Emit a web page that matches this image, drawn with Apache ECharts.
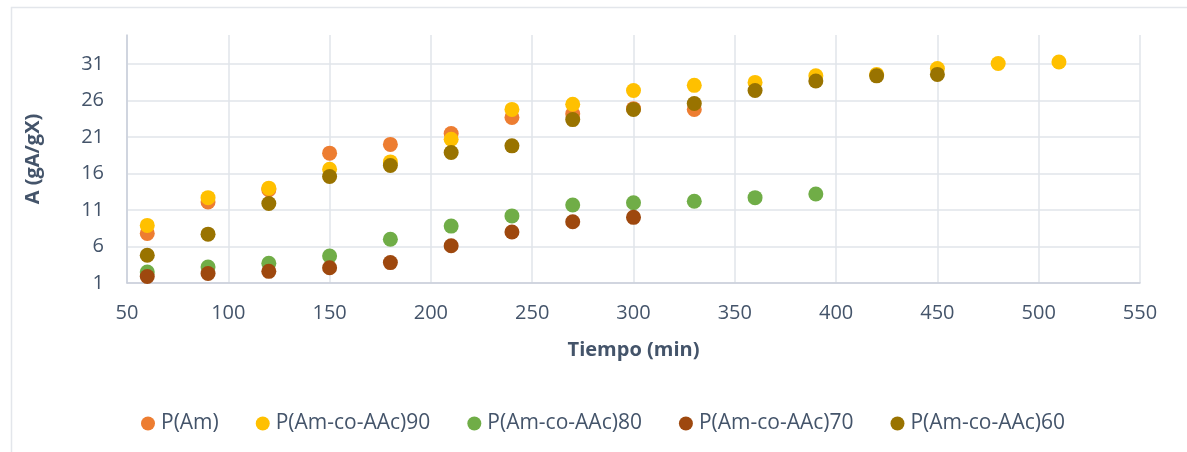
<!DOCTYPE html>
<html>
<head>
<meta charset="utf-8">
<script src="https://cdn.jsdelivr.net/npm/echarts@6/dist/echarts.min.js"></script>
<style>
  html, body { margin: 0; padding: 0; background: #ffffff; }
  #chart { width: 1187px; height: 452px; }
</style>
</head>
<body>
<div id="chart"></div>
<script>
// Sampling times (min)
const times = [60, 90, 120, 150, 180, 210, 240, 270, 300, 330, 360, 390, 420, 450, 480, 510];

// Absorption A (gA/gX) for each polymer, one value per sampling time
const pAm    = [7.8, 12.1, 13.8, 18.8, 20.0, 21.5, 23.7, 24.2, 24.9, 24.8];
const pAAc90 = [8.9, 12.7, 14.0, 16.6, 17.6, 20.7, 24.8, 25.5, 27.4, 28.1, 28.5, 29.4, 29.6, 30.4, 31.1, 31.3];
const pAAc80 = [2.5, 3.2, 3.7, 4.7, 7.0, 8.8, 10.2, 11.7, 12.0, 12.2, 12.7, 13.2];
const pAAc70 = [1.9, 2.3, 2.6, 3.1, 3.8, 6.1, 8.0, 9.4, 10.0];
const pAAc60 = [4.8, 7.7, 11.9, 15.6, 17.1, 18.9, 19.8, 23.4, 24.8, 25.6, 27.4, 28.7, 29.4, 29.6];

const seriesNames = ['P(Am)', 'P(Am-co-AAc)90', 'P(Am-co-AAc)80', 'P(Am-co-AAc)70', 'P(Am-co-AAc)60'];
const seriesValues = [pAm, pAAc90, pAAc80, pAAc70, pAAc60];
const seriesColors = ['#ED7D31', '#FFC000', '#70AD47', '#9E480E', '#997300'];

// Axis settings
const xMin = 50, xMax = 550, xStep = 50;
const yMin = 1, yMax = 35, yStep = 5;

const textColor = '#44546A';
const gridColor = '#e1e4ea';
const font = '"Open Sans", "Noto Sans", sans-serif';

const chart = echarts.init(document.getElementById('chart'), null, { renderer: 'canvas' });

const series = seriesNames.map((name, i) => ({
  name: name,
  type: 'scatter',
  symbol: 'circle',
  symbolSize: 15,
  itemStyle: { color: seriesColors[i], opacity: 1 },
  data: seriesValues[i].map((v, k) => [times[k], v]),
  z: 2 + i
}));

chart.setOption({
  animation: false,
  backgroundColor: '#ffffff',
  textStyle: { fontFamily: font },
  graphic: [{
    type: 'rect',
    left: 9, top: 5,
    shape: { width: 1177, height: 470 },
    style: { fill: 'none', stroke: '#e3e6eb', lineWidth: 1.5 },
    silent: true, z: -1
  }],
  grid: { left: 127, right: 47, top: 35, bottom: 169, containLabel: false },
  xAxis: {
    type: 'value',
    min: xMin, max: xMax, interval: xStep,
    name: 'Tiempo (min)',
    nameLocation: 'middle',
    nameGap: 57,
    nameTextStyle: { color: textColor, fontSize: 20, fontWeight: 'bold', fontFamily: font },
    axisLine: { show: true, onZero: false, lineStyle: { color: '#c9ceda', width: 1.5 } },
    axisTick: { show: false },
    axisLabel: { color: textColor, fontSize: 20, margin: 20, fontFamily: font },
    splitLine: { show: true, lineStyle: { color: gridColor, width: 1.5 } }
  },
  yAxis: {
    type: 'value',
    min: yMin, max: yMax, interval: yStep,
    name: 'A (gA/gX)',
    nameLocation: 'middle',
    nameGap: 84,
    nameRotate: 90,
    nameTextStyle: { color: textColor, fontSize: 20, fontWeight: 'bold', fontFamily: font },
    axisLine: { show: true, lineStyle: { color: '#c9ceda', width: 1.5 } },
    axisTick: { show: false },
    axisLabel: { color: textColor, fontSize: 20, margin: 23, showMaxLabel: false, fontFamily: font },
    splitLine: {
      show: true,
      lineStyle: {
        color: [gridColor, gridColor, gridColor, gridColor, gridColor, gridColor, gridColor, 'rgba(0,0,0,0)'],
        width: 1.5
      }
    }
  },
  legend: {
    data: seriesNames,
    left: 136,
    top: 408,
    icon: 'circle',
    itemWidth: 14,
    itemHeight: 14,
    itemGap: 37,
    textStyle: { color: textColor, fontSize: 21, fontFamily: font, padding: [0, 0, 0, 1] }
  },
  series: series
});
</script>
</body>
</html>
